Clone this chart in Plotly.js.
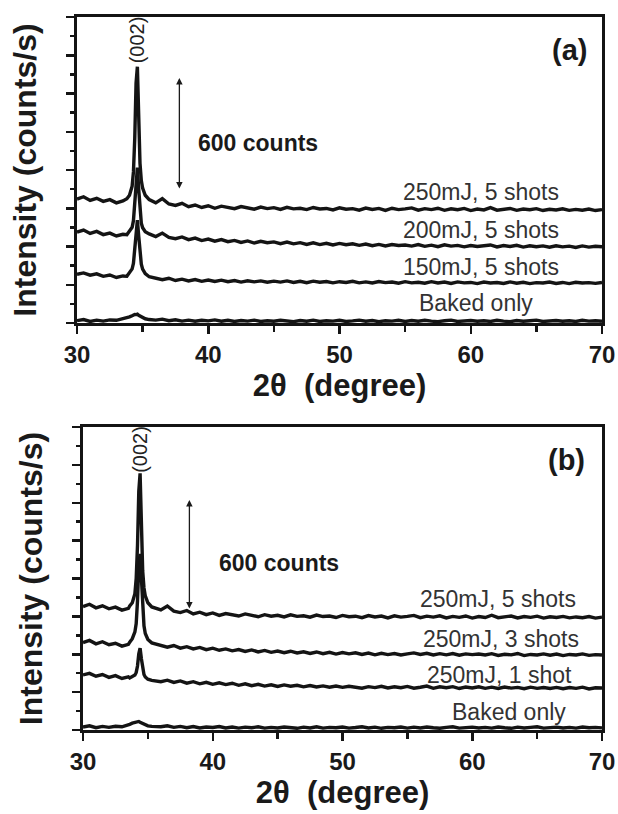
<!DOCTYPE html>
<html>
<head>
<meta charset="utf-8">
<script src="https://cdn.plot.ly/plotly-3.0.1.min.js"></script>
<style>html,body{margin:0;padding:0;background:#fff}#chart{width:618px;height:814px}</style>
</head>
<body>
<div id="chart"></div>
<script>
// 2-theta grid (degrees), panel (a)
const twoThetaA = [
  30,30.5,31,31.5,32,32.5,33,33.5,
  33.8,34,34.2,34.3,34.4,34.5,34.6,34.7,34.8,34.9,35,35.2,35.5,
  36,36.5,37,37.5,38,38.5,39,39.5,40,40.5,
  41,41.5,42,42.5,43,43.5,44,44.5,45,45.5,
  46,46.5,47,47.5,48,48.5,49,49.5,50,50.5,
  51,51.5,52,52.5,53,53.5,54,54.5,55,55.5,
  56,56.5,57,57.5,58,58.5,59,59.5,60,60.5,
  61,61.5,62,62.5,63,63.5,64,64.5,65,65.5,
  66,66.5,67,67.5,68,68.5,69,69.5,70
];
// 2-theta grid (degrees), panel (b)
const twoThetaB = [
  30,30.5,31,31.5,32,32.5,33,33.5,
  33.6,33.8,34,34.1,34.2,34.3,34.4,34.5,34.6,34.7,34.8,35,35.3,
  36,36.5,37,37.5,38,38.5,39,39.5,40,40.5,
  41,41.5,42,42.5,43,43.5,44,44.5,45,45.5,
  46,46.5,47,47.5,48,48.5,49,49.5,50,50.5,
  51,51.5,52,52.5,53,53.5,54,54.5,55,55.5,
  56,56.5,57,57.5,58,58.5,59,59.5,60,60.5,
  61,61.5,62,62.5,63,63.5,64,64.5,65,65.5,
  66,66.5,67,67.5,68,68.5,69,69.5,70
];

// Panel (a): intensity (counts/s, stacked as plotted)
const a250mJ5 = [
  648,660,641,652,636,645,628,638,
  650,668,715,790,965,1255,1340,1065,835,745,705,668,645,
  628,650,622,615,626,608,617,604,613,600,
  611,603,598,609,601,595,606,598,603,594,
  605,597,600,593,604,596,599,591,602,595,
  598,590,601,594,599,589,600,593,597,602,
  590,598,593,600,589,597,592,599,588,596,
  591,603,590,595,599,589,596,592,598,588,
  595,591,597,589,594,590,596,588,593
];
const a200mJ5 = [
  475,486,468,479,462,470,455,464,
  462,478,500,535,625,765,812,700,578,522,498,477,466,
  452,470,447,441,450,436,444,431,439,428,
  436,425,432,421,429,418,427,420,424,415,
  423,414,420,411,419,410,417,408,416,409,
  414,406,413,404,411,403,410,405,408,402,
  410,401,407,399,409,402,406,398,405,400,
  403,408,398,405,400,406,397,404,399,403,
  396,404,398,402,395,403,397,401,399
];
const a150mJ5 = [
  255,262,250,257,244,251,238,246,
  244,262,283,312,383,497,538,456,360,308,282,258,242,
  232,226,234,222,229,220,227,218,225,217,
  224,216,222,214,221,215,220,213,219,214,
  220,212,218,211,219,213,217,210,216,212,
  218,210,215,209,217,211,214,208,216,210,
  213,208,216,209,214,207,215,210,212,206,
  214,209,212,207,215,208,213,206,211,209,
  214,207,212,206,213,209,211,207,212
];
const aBaked = [
  12,18,8,15,10,16,14,22,
  26,32,38,42,45,44,46,40,36,30,28,22,18,
  15,20,12,17,10,15,9,14,11,16,
  9,14,8,13,10,15,8,12,9,14,
  10,7,13,9,15,8,12,10,14,8,
  11,15,9,13,7,12,10,14,8,13,
  9,14,10,7,12,15,8,11,13,9,
  12,8,14,10,7,13,9,12,15,8,
  11,13,9,12,8,14,10,12,9
];

// Panel (b)
const b250mJ5 = [
  652,664,645,656,640,649,633,642,
  655,672,720,800,975,1260,1355,1075,840,750,708,672,650,
  634,655,628,620,631,613,622,609,618,605,
  615,607,602,613,604,598,609,601,606,597,
  608,600,603,596,607,599,602,594,605,598,
  601,593,604,597,602,592,603,596,600,605,
  593,601,596,603,592,600,595,602,591,599,
  594,606,593,598,602,592,599,595,601,591,
  598,594,600,592,597,593,599,591,596
];
const b250mJ3 = [
  462,473,455,466,450,458,443,452,
  464,482,518,562,682,872,930,782,626,550,510,478,460,
  445,437,446,432,440,428,436,424,432,421,
  428,418,425,415,423,412,420,410,417,408,
  416,407,413,404,412,403,410,401,409,402,
  408,399,406,397,405,398,404,396,402,407,
  399,405,396,403,397,404,395,402,398,401,
  396,403,394,400,397,404,393,399,396,402,
  395,401,393,399,396,402,394,398,396
];
const b250mJ1 = [
  291,299,284,293,278,287,272,281,
  275,282,290,304,338,403,432,376,320,293,280,268,262,
  255,263,251,259,247,255,244,252,241,249,
  240,247,236,244,234,241,232,239,230,238,
  231,236,228,235,227,233,226,232,225,231,
  227,221,229,224,231,222,228,223,230,221,
  226,232,220,228,223,229,219,227,222,228,
  220,226,219,227,221,225,218,226,220,224,
  219,225,218,224,220,226,217,223,222
];
const bBaked = [
  16,22,12,19,14,20,17,25,
  30,36,40,44,42,45,41,38,34,30,26,22,19,
  17,22,14,19,12,18,11,16,13,18,
  11,16,10,15,12,17,10,14,11,16,
  12,9,15,11,17,10,14,12,16,10,
  13,17,11,15,9,14,12,16,10,15,
  11,16,12,9,14,17,10,13,15,11,
  14,10,16,12,9,15,11,14,17,10,
  13,15,11,14,10,16,12,14,11
];

const labelsA = ["250mJ, 5 shots", "200mJ, 5 shots", "150mJ, 5 shots", "Baked only"];
const labelsB = ["250mJ, 5 shots", "250mJ, 3 shots", "250mJ, 1 shot", "Baked only"];
const xTickVals = [30, 40, 50, 60, 70];
const peakLabel = "(002)";
const scaleLabel = "600 counts";
const scaleCounts = 600;

const FONT = "Liberation Sans, Arial, Helvetica, sans-serif";
const LINE = {color: "#141414", width: 3.4};

function tr(x, y, name, xa, ya) {
  return {x: x, y: y, name: name, type: "scatter", mode: "lines",
          line: LINE, xaxis: xa, yaxis: ya, showlegend: false, hoverinfo: "skip"};
}

const data = [
  tr(twoThetaA, aBaked, labelsA[3], "x", "y"),
  tr(twoThetaA, a150mJ5, labelsA[2], "x", "y"),
  tr(twoThetaA, a200mJ5, labelsA[1], "x", "y"),
  tr(twoThetaA, a250mJ5, labelsA[0], "x", "y"),
  tr(twoThetaB, bBaked, labelsB[3], "x2", "y2"),
  tr(twoThetaB, b250mJ1, labelsB[2], "x2", "y2"),
  tr(twoThetaB, b250mJ3, labelsB[1], "x2", "y2"),
  tr(twoThetaB, b250mJ5, labelsB[0], "x2", "y2")
];

function xAxis(domain, anchor) {
  return {
    domain: domain, anchor: anchor, range: [30, 70], tickvals: xTickVals,
    ticks: "outside", ticklen: 8, tickwidth: 2.5, tickcolor: "#141414",
    minor: {dtick: 5, tick0: 30, ticks: "outside", ticklen: 6, tickwidth: 2.5, tickcolor: "#141414"},
    showline: true, linewidth: 3, linecolor: "#141414", mirror: true,
    showgrid: false, zeroline: false, ticklabeloverflow: "allow",
    tickfont: {family: FONT, size: 24, color: "#1a1a1a", weight: "bold"},
    title: {text: "2θ  (degree)", standoff: 4, font: {family: FONT, size: 31, color: "#1a1a1a", weight: "bold"}}
  };
}
function yAxis(domain, anchor) {
  return {
    domain: domain, anchor: anchor, range: [0, 1600], dtick: 200, tick0: 0,
    ticks: "outside", ticklen: 8, tickwidth: 2.5, tickcolor: "#141414",
    minor: {dtick: 100, tick0: 0, ticks: "outside", ticklen: 4, tickwidth: 2.5, tickcolor: "#141414"},
    showticklabels: false,
    showline: true, linewidth: 3, linecolor: "#141414", mirror: true,
    showgrid: false, zeroline: false,
    title: {text: "Intensity (counts/s)", standoff: 20, font: {family: FONT, size: 32, color: "#1a1a1a", weight: "bold"}}
  };
}

const lblFont = {family: FONT, size: 23, color: "#333333"};
const ann = [];
function addLabel(xr, yr, x, y, text) {
  ann.push({xref: xr, yref: yr, x: x, y: y, text: text, showarrow: false, font: lblFont, xanchor: "center", yanchor: "middle"});
}
// Panel (a)
addLabel("x", "y", 60.8, 685, labelsA[0]);
addLabel("x", "y", 60.8, 486, labelsA[1]);
addLabel("x", "y", 60.8, 293, labelsA[2]);
addLabel("x", "y", 60.4, 105, labelsA[3]);
ann.push({xref: "x", yref: "y", x: 67.5, y: 1428, text: "(a)", showarrow: false,
  font: {family: FONT, size: 29, color: "#1a1a1a", weight: "bold"}});
ann.push({xref: "x", yref: "y", x: 34.6, y: 1480, text: peakLabel, textangle: -90, showarrow: false,
  font: {family: FONT, size: 20, color: "#222"}});
ann.push({xref: "x", yref: "y", x: 39.1, y: 941, text: scaleLabel, showarrow: false, xanchor: "left",
  font: {family: FONT, size: 23, color: "#1a1a1a", weight: "bold"}});
ann.push({xref: "x", yref: "y", axref: "x", ayref: "y", x: 37.8, y: 696 + scaleCounts - 15, ax: 37.8, ay: 696,
  text: "", showarrow: true, arrowhead: 2, startarrowhead: 2, arrowside: "end+start", arrowsize: 1, arrowwidth: 1.3, arrowcolor: "#1a1a1a"});
// Panel (b)
addLabel("x2", "y2", 62.0, 692, labelsB[0]);
addLabel("x2", "y2", 62.2, 480, labelsB[1]);
addLabel("x2", "y2", 62.1, 290, labelsB[2]);
addLabel("x2", "y2", 62.8, 95, labelsB[3]);
ann.push({xref: "x2", yref: "y2", x: 67.3, y: 1426, text: "(b)", showarrow: false,
  font: {family: FONT, size: 29, color: "#1a1a1a", weight: "bold"}});
ann.push({xref: "x2", yref: "y2", x: 34.4, y: 1480, text: peakLabel, textangle: -90, showarrow: false,
  font: {family: FONT, size: 20, color: "#222"}});
ann.push({xref: "x2", yref: "y2", x: 40.3, y: 882, text: scaleLabel, showarrow: false, xanchor: "left",
  font: {family: FONT, size: 23, color: "#1a1a1a", weight: "bold"}});
ann.push({xref: "x2", yref: "y2", axref: "x2", ayref: "y2", x: 38.2, y: 1214, ax: 38.2, ay: 1214 - scaleCounts + 20,
  text: "", showarrow: true, arrowhead: 2, startarrowhead: 2, arrowside: "end+start", arrowsize: 1, arrowwidth: 1.3, arrowcolor: "#1a1a1a"});

const W = 618, H = 814;
const layout = {
  width: W, height: H, margin: {l: 0, r: 0, t: 0, b: 0},
  paper_bgcolor: "#ffffff", plot_bgcolor: "#ffffff",
  showlegend: false,
  xaxis: xAxis([77 / W, 602 / W], "y"),
  yaxis: yAxis([1 - 323 / H, 1 - 17 / H], "x"),
  xaxis2: xAxis([83 / W, 602 / W], "y2"),
  yaxis2: yAxis([1 - 730 / H, 1 - 427 / H], "x2"),
  annotations: ann
};

Plotly.newPlot("chart", data, layout, {staticPlot: true, displayModeBar: false});
</script>
</body>
</html>
